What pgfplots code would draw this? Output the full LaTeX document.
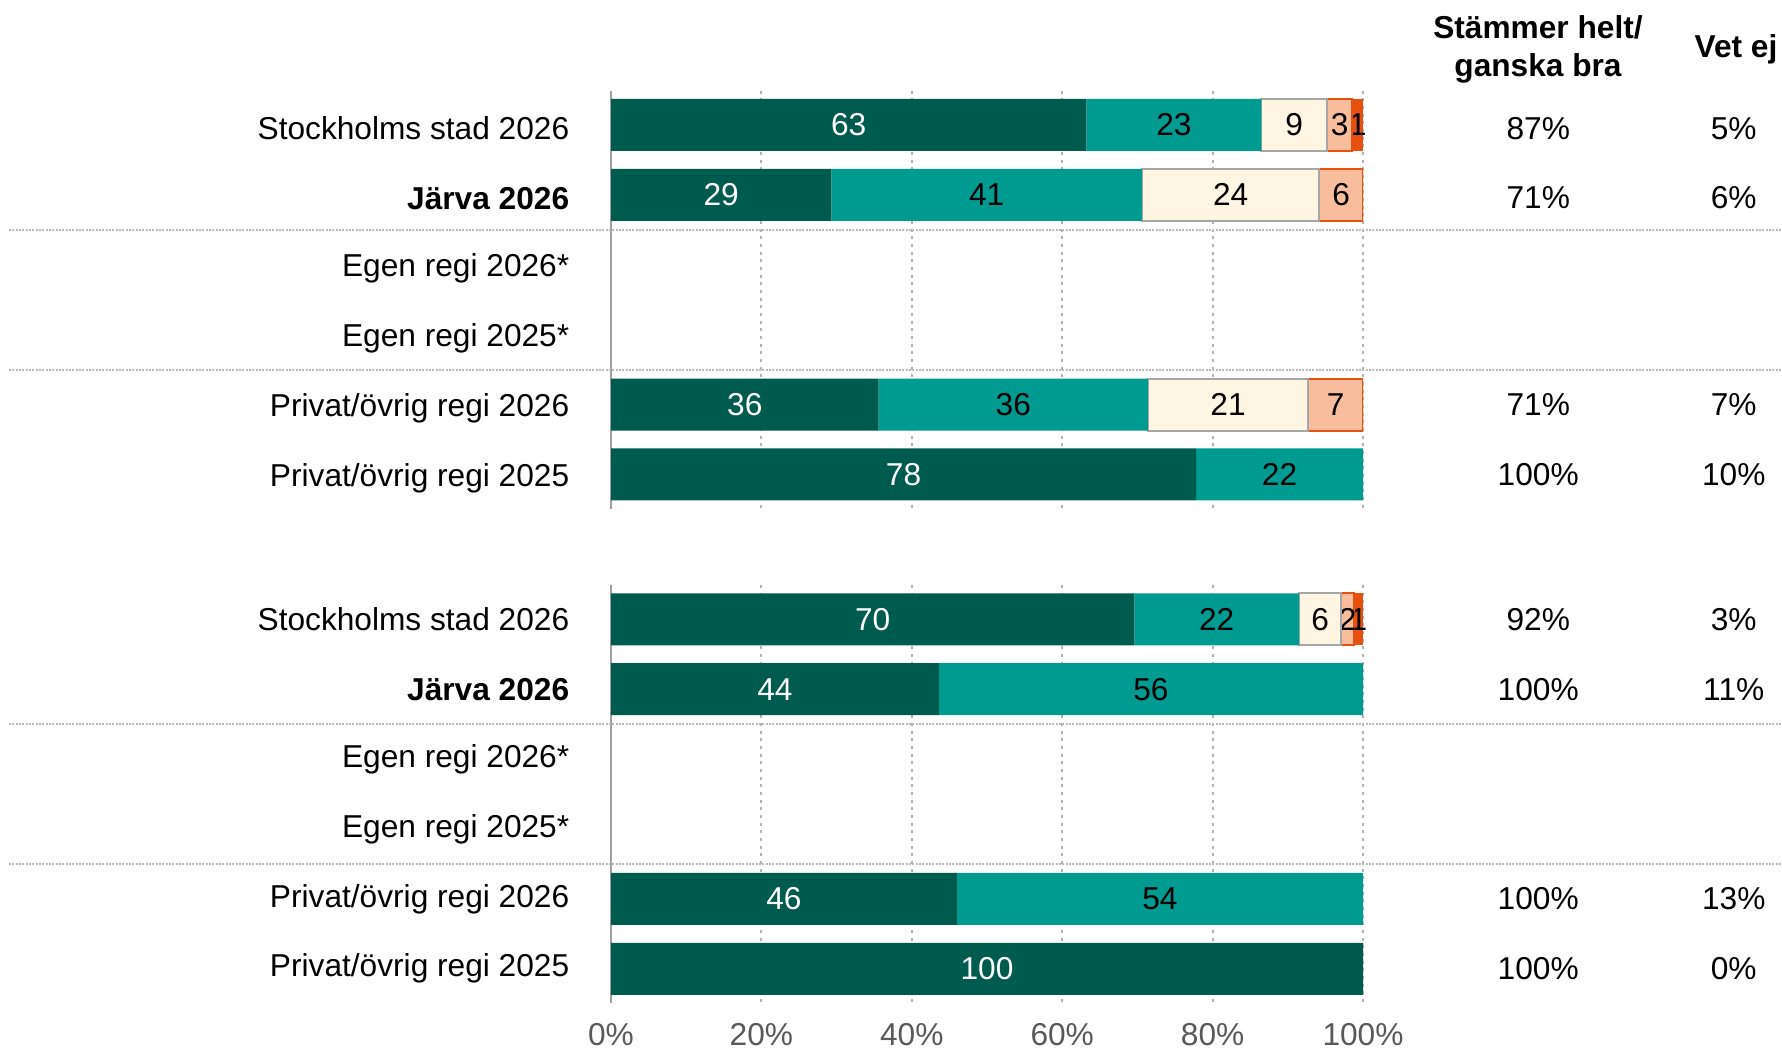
\documentclass[border=0pt]{standalone}
\usepackage{pgfplots}
\pgfplotsset{compat=1.18}
\usepackage{fontspec}
\setmainfont{Liberation Sans}

\definecolor{dkgreen}{HTML}{005B4F}
\definecolor{tealc}{HTML}{009B90}
\definecolor{creamc}{HTML}{FFF5E3}
\definecolor{salmonc}{HTML}{F8BD9D}
\definecolor{orangec}{HTML}{E8500F}
\definecolor{tickgray}{HTML}{595959}

\newcommand{\fs}{\fontsize{9.5}{11}\selectfont}

\tikzset{sepline/.style={draw=gray!55, line width=0.6pt, dash pattern=on 0.6pt off 0.4pt}}

\pgfplotsset{
  bars/.style={
    xbar stacked, scale only axis,
    width=225.6pt, height=125.4pt,
    xmin=0, xmax=100, ymin=-0.49, ymax=5.49, y dir=reverse,
    bar width=15.6pt,
    axis lines*=left,
    x axis line style={draw=none},
    y axis line style={draw=gray!75, line width=0.7pt},
    tick style={draw=none},
    xtick={0,20,...,100}, ytick={0,...,5},
    xmajorgrids,
    grid style={draw=gray!60, line width=0.6pt, dash pattern=on 0.9pt off 1.4pt},
    clip mode=individual,
    ticklabel style={font=\fs},
    yticklabel style={xshift=-9pt},
    /pgf/number format/assume math mode=true,
    nodes near coords={\pgfmathprintnumber[fixed,precision=0]{\pgfplotspointmeta}},
    every node near coord/.append style={font=\fs, text=black},
  },
}

\begin{document}
\begin{tikzpicture}
\useasboundingbox (0,0) rectangle (534.6pt,-315.3pt);

% headers
\node[font=\fs\bfseries] at (461.4pt,-8.1pt) {Stämmer helt/};
\node[font=\fs\bfseries] at (461.4pt,-20.4pt) {ganska bra};
\node[font=\fs\bfseries] at (520.8pt,-14.7pt) {Vet ej};

% top group
\begin{axis}[bars, at={(183.3pt,-27.2pt)}, anchor=north west,
  xticklabels={},
  yticklabel style={yshift=-1.1pt},
  yticklabels={Stockholms stad 2026,\textbf{Järva 2026},Egen regi 2026*,Egen regi 2025*,Privat/övrig regi 2026,Privat/övrig regi 2025}]
\addplot[fill=dkgreen, draw=none, every node near coord/.append style={text=white}]
  coordinates {(63.2,0) (29.3,1) (0,-50) (0,-50) (35.6,4) (77.8,5)};
\addplot[fill=tealc, draw=none]
  coordinates {(23.3,0) (41.3,1) (0,-50) (0,-50) (35.8,4) (22.2,5)};
\addplot[fill=creamc, draw=gray!70, line width=0.6pt]
  coordinates {(8.7,0) (23.6,1) (0,-50) (0,-50) (21.3,4) (0,-50)};
\addplot[fill=salmonc, draw=orangec, line width=0.6pt]
  coordinates {(3.4,0) (5.8,1) (0,-50) (0,-50) (7.3,4) (0,-50)};
\addplot[fill=orangec, draw=none]
  coordinates {(1.4,0) (0,-50) (0,-50) (0,-50) (0,-50) (0,-50)};
\draw[sepline] (axis cs:-80.05,1.5) -- (axis cs:155.7,1.5);
\draw[sepline] (axis cs:-80.05,3.5) -- (axis cs:155.7,3.5);
\node[font=\fs, yshift=-1.2pt] at (axis cs:123.3,0) {87\%};
\node[font=\fs, yshift=-1.2pt] at (axis cs:149.3,0) {5\%};
\node[font=\fs, yshift=-0.8pt] at (axis cs:123.3,1) {71\%};
\node[font=\fs, yshift=-0.8pt] at (axis cs:149.3,1) {6\%};
\node[font=\fs] at (axis cs:123.3,4) {71\%};
\node[font=\fs] at (axis cs:149.3,4) {7\%};
\node[font=\fs] at (axis cs:123.3,5) {100\%};
\node[font=\fs] at (axis cs:149.3,5) {10\%};
\end{axis}

% bottom group
\begin{axis}[bars, at={(183.3pt,-175.5pt)}, anchor=north west,
  xticklabel={\pgfmathprintnumber{\tick}\%},
  xticklabel style={text=tickgray, yshift=-2.6pt},
  yticklabels={Stockholms stad 2026,\textbf{Järva 2026},Egen regi 2026*,Egen regi 2025*,Privat/övrig regi 2026,Privat/övrig regi 2025}]
\addplot[fill=dkgreen, draw=none, every node near coord/.append style={text=white}]
  coordinates {(69.6,0) (43.6,1) (0,-50) (0,-50) (46.0,4) (100,5)};
\addplot[fill=tealc, draw=none]
  coordinates {(21.9,0) (56.4,1) (0,-50) (0,-50) (54.0,4) (0,-50)};
\addplot[fill=creamc, draw=gray!70, line width=0.6pt]
  coordinates {(5.6,0) (0,-50) (0,-50) (0,-50) (0,-50) (0,-50)};
\addplot[fill=salmonc, draw=orangec, line width=0.6pt]
  coordinates {(1.7,0) (0,-50) (0,-50) (0,-50) (0,-50) (0,-50)};
\addplot[fill=orangec, draw=none]
  coordinates {(1.2,0) (0,-50) (0,-50) (0,-50) (0,-50) (0,-50)};
\draw[sepline] (axis cs:-80.05,1.5) -- (axis cs:155.7,1.5);
\draw[sepline] (axis cs:-80.05,3.5) -- (axis cs:155.7,3.5);
\node[font=\fs] at (axis cs:123.3,0) {92\%};
\node[font=\fs] at (axis cs:149.3,0) {3\%};
\node[font=\fs] at (axis cs:123.3,1) {100\%};
\node[font=\fs] at (axis cs:149.3,1) {11\%};
\node[font=\fs] at (axis cs:123.3,4) {100\%};
\node[font=\fs] at (axis cs:149.3,4) {13\%};
\node[font=\fs] at (axis cs:123.3,5) {100\%};
\node[font=\fs] at (axis cs:149.3,5) {0\%};
\end{axis}
\end{tikzpicture}
\end{document}
